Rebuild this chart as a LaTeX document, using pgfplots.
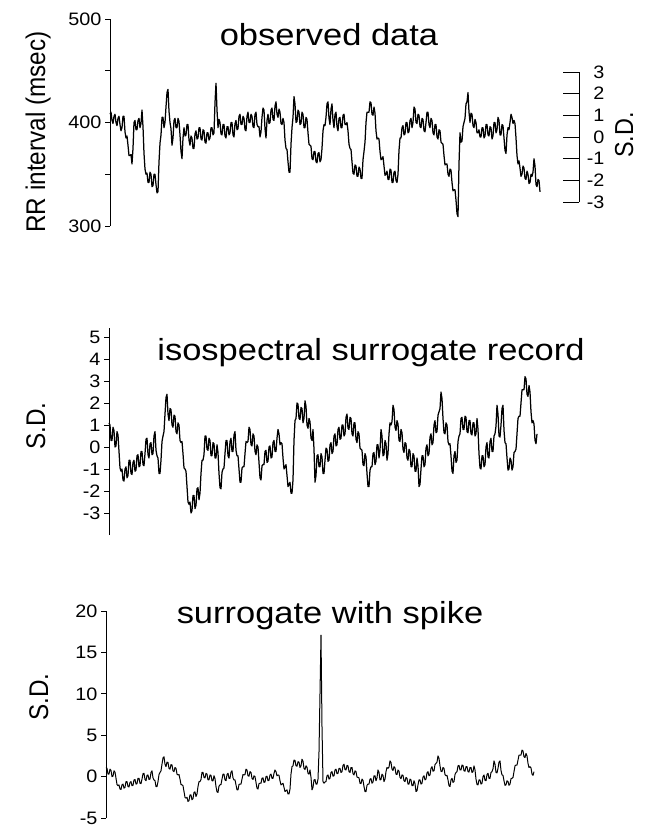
\documentclass[border=0pt]{standalone}
\usepackage{fontspec}
\setmainfont{Liberation Sans}
\usepackage{pgfplots}
\usepackage{pgfplotstable}
\pgfplotsset{compat=1.18}
\newfontfamily\titlefont[FakeStretch=1.13]{Liberation Sans}
\newfontfamily\labfont[FakeStretch=0.9]{Liberation Sans}
\newfontfamily\tickfont[FakeStretch=1.1]{Liberation Sans}

% observed RR intervals (msec), one sample per pixel column
\pgfplotstableread[row sep=\\,header=false]{
408\\410\\402\\399\\406\\408\\400\\397\\404\\406\\398\\392\\395\\406\\406\\391\\385\\387\\378\\368\\368\\369\\360\\375\\
400\\402\\393\\393\\402\\404\\395\\399\\412\\396\\370\\355\\350\\351\\342\\342\\352\\350\\338\\339\\350\\350\\340\\332\\333\\362\\
380\\388\\405\\405\\395\\400\\415\\429\\432\\411\\400\\394\\378\\385\\402\\404\\395\\395\\404\\401\\388\\372\\365\\385\\
395\\387\\388\\398\\398\\383\\378\\387\\385\\375\\375\\389\\392\\384\\385\\395\\395\\384\\383\\393\\392\\381\\380\\390\\
390\\383\\385\\395\\395\\388\\390\\419\\438\\412\\395\\403\\400\\389\\388\\398\\398\\387\\385\\396\\396\\388\\390\\400\\
400\\388\\386\\399\\402\\393\\394\\406\\408\\398\\398\\406\\404\\393\\392\\406\\410\\400\\400\\408\\406\\396\\395\\408\\
410\\398\\396\\396\\386\\391\\405\\414\\412\\394\\385\\402\\408\\399\\400\\412\\414\\403\\402\\416\\420\\408\\405\\413\\
410\\399\\398\\404\\400\\383\\375\\374\\362\\352\\352\\379\\395\\405\\425\\418\\400\\401\\412\\410\\398\\399\\410\\408\\
395\\395\\405\\403\\390\\379\\378\\377\\365\\364\\372\\372\\362\\361\\370\\371\\362\\364\\375\\392\\398\\397\\405\\418\\
420\\404\\398\\413\\418\\402\\395\\408\\410\\396\\392\\404\\405\\395\\395\\407\\408\\398\\398\\400\\392\\379\\375\\374\\
362\\351\\350\\359\\358\\348\\348\\357\\355\\346\\346\\364\\372\\381\\400\\410\\410\\410\\420\\419\\408\\407\\415\\409\\
392\\384\\385\\384\\372\\364\\365\\367\\358\\349\\350\\353\\345\\345\\355\\354\\342\\342\\352\\353\\344\\342\\350\\373\\
385\\385\\395\\397\\388\\389\\400\\400\\390\\391\\402\\404\\395\\400\\415\\413\\400\\399\\408\\407\\396\\395\\404\\403\\
392\\391\\400\\410\\410\\398\\395\\404\\402\\390\\388\\398\\398\\386\\384\\393\\392\\381\\380\\379\\368\\359\\360\\360\\
350\\348\\355\\354\\342\\334\\335\\335\\325\\312\\309\\360\\390\\381\\382\\396\\400\\404\\418\\420\\429\\410\\400\\409\\
408\\397\\395\\403\\400\\390\\390\\393\\386\\386\\395\\395\\385\\387\\398\\398\\388\\387\\396\\395\\384\\387\\400\\400\\
390\\393\\405\\402\\388\\388\\398\\397\\385\\373\\370\\388\\395\\393\\400\\408\\405\\399\\402\\399\\385\\368\\360\\363\\
356\\348\\350\\358\\356\\346\\345\\353\\350\\341\\342\\350\\348\\352\\365\\358\\340\\338\\345\\344\\333\\
}\observed

% isospectral surrogate (S.D.)
\pgfplotstableread[row sep=\\,header=false]{
1.1\\1.0\\0.3\\0.3\\0.9\\0.75\\0.0\\0.05\\0.7\\0.55\\-0.2\\-0.95\\-1.1\\-1.0\\-1.5\\-1.55\\-1.0\\-0.9\\-1.4\\-1.3\\
-0.6\\-0.6\\-1.2\\-1.25\\-0.7\\-0.6\\-1.1\\-1.05\\-0.4\\-0.35\\-0.9\\-0.85\\-0.2\\-0.2\\-0.8\\-0.85\\-0.3\\0.35\\0.4\\-0.35\\
-0.5\\0.15\\0.2\\-0.35\\-0.3\\0.5\\0.7\\-0.15\\-0.4\\-0.5\\-1.2\\-1.2\\-0.6\\0.25\\0.5\\0.7\\1.5\\2.25\\2.4\\1.5\\
1.2\\1.75\\1.7\\1.0\\0.9\\1.45\\1.4\\0.7\\0.6\\1.1\\1.0\\0.3\\0.2\\0.25\\-0.3\\-0.95\\-1.0\\-1.1\\-1.8\\-2.5\\
-2.6\\-2.5\\-3.0\\-2.9\\-2.2\\-2.2\\-2.8\\-2.65\\-1.9\\-1.85\\-2.4\\-2.1\\-1.2\\-0.6\\-0.6\\-0.35\\0.5\\0.5\\-0.1\\-0.15\\
0.4\\0.3\\-0.4\\-0.4\\0.2\\0.15\\-0.5\\-0.5\\0.1\\-0.25\\-1.2\\-1.85\\-1.9\\-1.15\\-1.0\\-0.95\\-0.3\\0.3\\0.3\\-0.4\\
-0.5\\0.25\\0.4\\-0.2\\-0.2\\0.55\\0.7\\-0.15\\-0.4\\-0.4\\-1.0\\-1.6\\-1.6\\-0.95\\-0.9\\-0.9\\-0.3\\0.25\\0.2\\0.25\\
0.9\\0.8\\0.1\\0.05\\0.6\\0.5\\-0.2\\-0.35\\0.1\\0.0\\-0.7\\-1.4\\-1.5\\-0.85\\-0.8\\-0.8\\-0.2\\-0.15\\-0.7\\-0.65\\
0.0\\0.05\\-0.5\\-0.45\\0.2\\0.3\\-0.2\\-0.2\\0.4\\0.8\\0.6\\0.1\\0.2\\0.15\\-0.5\\-1.0\\-0.9\\-0.8\\-1.3\\-1.8\\
-1.7\\-1.6\\-2.1\\-2.1\\-1.5\\0.3\\1.2\\1.3\\2.0\\1.95\\1.3\\1.25\\1.8\\1.75\\1.1\\1.3\\2.1\\1.85\\1.0\\0.85\\
1.3\\1.15\\0.4\\0.3\\0.8\\-0.1\\-1.6\\-1.3\\-0.4\\-0.35\\-0.9\\-0.9\\-0.3\\-0.45\\-1.2\\-1.2\\-0.6\\-0.05\\-0.1\\-0.65\\
-0.6\\0.1\\0.2\\-0.3\\-0.2\\0.5\\0.6\\0.05\\0.1\\0.8\\0.9\\0.35\\0.4\\1.0\\1.0\\0.5\\0.6\\1.35\\1.5\\0.85\\
0.8\\1.35\\1.3\\0.6\\0.5\\1.1\\1.1\\0.35\\0.2\\0.7\\0.6\\-0.05\\-0.1\\-0.15\\-0.8\\-0.85\\-0.3\\-0.45\\-1.2\\-1.8\\
-1.8\\-1.05\\-0.9\\-0.9\\-0.3\\-0.25\\-0.8\\-0.65\\0.1\\0.1\\-0.5\\-0.15\\0.8\\0.5\\-0.4\\-0.35\\0.3\\0.15\\-0.6\\-0.3\\
0.6\\1.1\\1.0\\1.15\\1.9\\1.7\\0.9\\0.75\\1.2\\1.05\\0.3\\0.25\\0.8\\0.65\\-0.1\\-0.25\\0.2\\0.15\\-0.5\\-0.6\\
-0.1\\-0.2\\-0.9\\-0.9\\-0.3\\-0.4\\-1.1\\-1.1\\-0.5\\-0.85\\-1.8\\-1.7\\-1.0\\-0.4\\-0.4\\-0.9\\-0.8\\-0.05\\0.1\\-0.4\\
-0.3\\0.45\\0.6\\0.1\\0.2\\1.0\\1.2\\0.65\\0.7\\1.45\\1.6\\1.75\\2.5\\2.2\\1.3\\0.65\\0.6\\1.1\\1.0\\0.25\\
0.1\\0.15\\-0.4\\-1.1\\-1.2\\-0.4\\-0.2\\-0.7\\-0.6\\0.25\\0.5\\0.6\\1.3\\1.35\\0.8\\0.8\\1.4\\1.35\\0.7\\0.65\\
1.2\\1.2\\0.6\\0.55\\1.1\\1.1\\0.5\\0.6\\1.3\\0.8\\-0.3\\-0.95\\-1.0\\-0.4\\-0.4\\-0.9\\-0.8\\0.0\\0.2\\-0.45\\
-0.5\\0.25\\0.4\\-0.2\\-0.2\\0.5\\0.6\\0.95\\1.9\\1.5\\0.5\\0.45\\1.0\\1.75\\1.9\\0.75\\0.2\\0.15\\-0.5\\-1.05\\
-1.0\\-0.5\\-0.6\\-1.05\\-0.9\\-0.25\\-0.2\\-0.1\\0.6\\1.3\\1.4\\1.4\\2.0\\2.6\\2.6\\2.6\\3.2\\3.1\\2.4\\2.3\\
2.8\\2.5\\1.6\\1.1\\1.2\\1.05\\0.3\\0.15\\0.6\\
}\surrogate

% surrogate with spike (S.D.)
\pgfplotstableread[row sep=\\,header=false]{
1.1\\1.0\\0.3\\0.3\\0.9\\0.75\\0.0\\0.05\\0.7\\0.55\\-0.2\\-0.95\\-1.1\\-1.0\\-1.5\\-1.55\\-1.0\\-0.9\\-1.4\\-1.3\\
-0.6\\-0.6\\-1.2\\-1.25\\-0.7\\-0.6\\-1.1\\-1.05\\-0.4\\-0.35\\-0.9\\-0.85\\-0.2\\-0.2\\-0.8\\-0.85\\-0.3\\0.35\\0.4\\-0.35\\
-0.5\\0.15\\0.2\\-0.35\\-0.3\\0.5\\0.7\\-0.15\\-0.4\\-0.5\\-1.2\\-1.2\\-0.6\\0.25\\0.5\\0.7\\1.5\\2.25\\2.4\\1.5\\
1.2\\1.75\\1.7\\1.0\\0.9\\1.45\\1.4\\0.7\\0.6\\1.1\\1.0\\0.3\\0.2\\0.25\\-0.3\\-0.95\\-1.0\\-1.1\\-1.8\\-2.5\\
-2.6\\-2.5\\-3.0\\-2.9\\-2.2\\-2.2\\-2.8\\-2.65\\-1.9\\-1.85\\-2.4\\-2.1\\-1.2\\-0.6\\-0.6\\-0.35\\0.5\\0.5\\-0.1\\-0.15\\
0.4\\0.3\\-0.4\\-0.4\\0.2\\0.15\\-0.5\\-0.5\\0.1\\-0.25\\-1.2\\-1.85\\-1.9\\-1.15\\-1.0\\-0.95\\-0.3\\0.3\\0.3\\-0.4\\
-0.5\\0.25\\0.4\\-0.2\\-0.2\\0.55\\0.7\\-0.15\\-0.4\\-0.4\\-1.0\\-1.6\\-1.6\\-0.95\\-0.9\\-0.9\\-0.3\\0.25\\0.2\\0.25\\
0.9\\0.8\\0.1\\0.05\\0.6\\0.5\\-0.2\\-0.35\\0.1\\0.0\\-0.7\\-1.4\\-1.5\\-0.85\\-0.8\\-0.8\\-0.2\\-0.15\\-0.7\\-0.65\\
0.0\\0.05\\-0.5\\-0.45\\0.2\\0.3\\-0.2\\-0.2\\0.4\\0.8\\0.6\\0.1\\0.2\\0.15\\-0.5\\-1.0\\-0.9\\-0.8\\-1.3\\-1.8\\
-1.7\\-1.6\\-2.1\\-2.1\\-1.5\\0.3\\1.2\\1.3\\2.0\\1.95\\1.3\\1.25\\1.8\\1.75\\1.1\\1.3\\2.1\\1.85\\1.0\\0.85\\
1.3\\1.15\\0.4\\0.3\\0.8\\-0.1\\-1.6\\-1.3\\-0.4\\-0.35\\-0.9\\-0.9\\-0.3\\3.0\\10.0\\17.1\\6.0\\-0.6\\-0.8\\-0.65\\
-0.6\\0.1\\0.2\\-0.3\\-0.2\\0.5\\0.6\\0.05\\0.1\\0.8\\0.9\\0.35\\0.4\\1.0\\1.0\\0.5\\0.6\\1.35\\1.5\\0.85\\
0.8\\1.35\\1.3\\0.6\\0.5\\1.1\\1.1\\0.35\\0.2\\0.7\\0.6\\-0.05\\-0.1\\-0.15\\-0.8\\-0.85\\-0.3\\-0.45\\-1.2\\-1.8\\
-1.8\\-1.05\\-0.9\\-0.9\\-0.3\\-0.25\\-0.8\\-0.65\\0.1\\0.1\\-0.5\\-0.15\\0.8\\0.5\\-0.4\\-0.35\\0.3\\0.15\\-0.6\\-0.3\\
0.6\\1.1\\1.0\\1.15\\1.9\\1.7\\0.9\\0.75\\1.2\\1.05\\0.3\\0.25\\0.8\\0.65\\-0.1\\-0.25\\0.2\\0.15\\-0.5\\-0.6\\
-0.1\\-0.2\\-0.9\\-0.9\\-0.3\\-0.4\\-1.1\\-1.1\\-0.5\\-0.85\\-1.8\\-1.7\\-1.0\\-0.4\\-0.4\\-0.9\\-0.8\\-0.05\\0.1\\-0.4\\
-0.3\\0.45\\0.6\\0.1\\0.2\\1.0\\1.2\\0.65\\0.7\\1.45\\1.6\\1.75\\2.5\\2.2\\1.3\\0.65\\0.6\\1.1\\1.0\\0.25\\
0.1\\0.15\\-0.4\\-1.1\\-1.2\\-0.4\\-0.2\\-0.7\\-0.6\\0.25\\0.5\\0.6\\1.3\\1.35\\0.8\\0.8\\1.4\\1.35\\0.7\\0.65\\
1.2\\1.2\\0.6\\0.55\\1.1\\1.1\\0.5\\0.6\\1.3\\0.8\\-0.3\\-0.95\\-1.0\\-0.4\\-0.4\\-0.9\\-0.8\\0.0\\0.2\\-0.45\\
-0.5\\0.25\\0.4\\-0.2\\-0.2\\0.5\\0.6\\0.95\\1.9\\1.5\\0.5\\0.45\\1.0\\1.75\\1.9\\0.75\\0.2\\0.15\\-0.5\\-1.05\\
-1.0\\-0.5\\-0.6\\-1.05\\-0.9\\-0.25\\-0.2\\-0.1\\0.6\\1.3\\1.4\\1.4\\2.0\\2.6\\2.6\\2.6\\3.2\\3.1\\2.4\\2.3\\
2.8\\2.5\\1.6\\1.1\\1.2\\1.05\\0.3\\0.15\\0.6\\
}\spiked

\pgfplotsset{
  panel/.style={
    scale only axis, anchor=south west, hide x axis, axis y line*=left,
    tick align=outside, major tick length=5pt, clip=false,
    axis line style={line width=0.8pt, black},
    ytick style={line width=0.8pt, black},
    tick label style={font=\tickfont\fontsize{18}{21}\selectfont},
  },
  trace/.style={black, line width=1.25pt, line join=round, no marks},
}

\begin{document}
\begin{tikzpicture}
\path[use as bounding box] (0pt,0pt) rectangle (648pt,-825pt);

% top panel
\begin{axis}[panel, at={(110pt,-226pt)}, width=430pt, height=207pt,
  xmin=0, xmax=430, ymin=300, ymax=500,
  ytick={300,350,400,450,500}, yticklabels={300,,400,,500}]
\addplot[trace] table[x expr=\coordindex, y index=0] {\observed};
\end{axis}

% S.D. scale of the top panel
\begin{axis}[scale only axis, anchor=south west, at={(569pt,-202pt)},
  width=10pt, height=130pt, xmin=0, xmax=1, ymin=-3, ymax=3,
  hide x axis, axis y line*=right, tick align=inside, major tick length=16pt,
  axis line style={line width=0.8pt, black},
  ytick style={line width=0.8pt, black},
  ytick={-3,-2,-1,0,1,2,3}, yticklabels={-3,-2,-1,0,1,2,3},
  yticklabel style={anchor=east, xshift=29pt, font=\tickfont\fontsize{18}{21}\selectfont}]
\end{axis}

% middle panel
\begin{axis}[panel, at={(109pt,-535pt)}, width=428pt, height=207pt,
  xmin=0, xmax=428, ymin=-4.0, ymax=5.41,
  ytick={-3,-2,-1,0,1,2,3,4,5}, yticklabels={-3,-2,-1,0,1,2,3,4,5}]
\addplot[trace] table[x expr=\coordindex, y index=0] {\surrogate};
\end{axis}

% bottom panel
\begin{axis}[panel, at={(106pt,-818pt)}, width=428pt, height=207pt,
  xmin=0, xmax=428, ymin=-5, ymax=20,
  ytick={-5,0,5,10,15,20}, yticklabels={-5,0,5,10,15,20}]
\addplot[trace, line width=1.0pt] table[x expr=\coordindex, y index=0] {\spiked};
\end{axis}

% titles
\node[font=\titlefont\fontsize{30.5}{36}\selectfont, anchor=base, inner sep=0pt] at (329pt,-45pt) {observed data};
\node[font=\titlefont\fontsize{30.5}{36}\selectfont, anchor=base, inner sep=0pt] at (371pt,-360pt) {isospectral surrogate record};
\node[font=\titlefont\fontsize{30.5}{36}\selectfont, anchor=base, inner sep=0pt] at (330pt,-623pt) {surrogate with spike};

% axis labels
\node[font=\labfont\fontsize{27}{32}\selectfont, rotate=90, anchor=base, inner sep=0pt] at (45pt,-132pt) {RR interval (msec)};
\node[font=\labfont\fontsize{27}{32}\selectfont, rotate=90, anchor=base, inner sep=0pt] at (45pt,-426pt) {S.D.};
\node[font=\labfont\fontsize{27}{32}\selectfont, rotate=90, anchor=base, inner sep=0pt] at (48pt,-697pt) {S.D.};
\node[font=\labfont\fontsize{26}{32}\selectfont, rotate=90, anchor=base, inner sep=0pt] at (633pt,-135pt) {S.D.};
\end{tikzpicture}
\end{document}
